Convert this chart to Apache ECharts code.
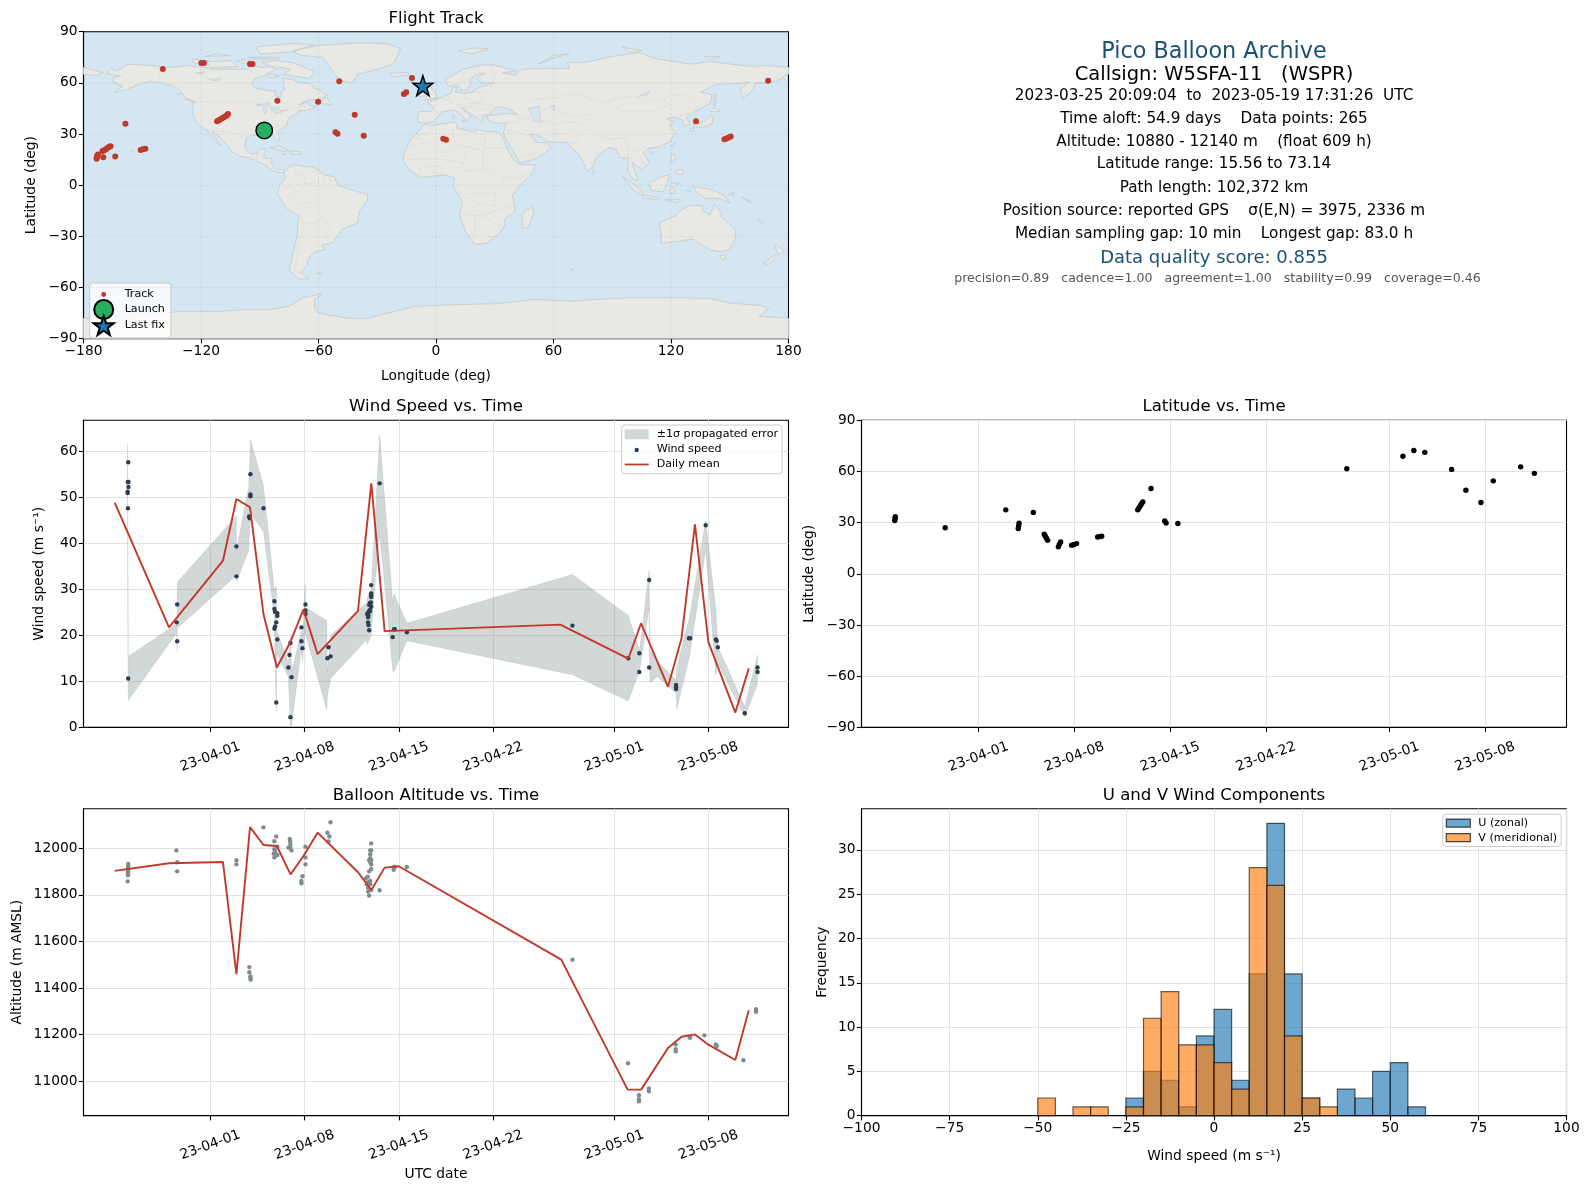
<!DOCTYPE html>
<html><head><meta charset="utf-8">
<script src="https://cdn.jsdelivr.net/npm/echarts@6/dist/echarts.min.js"></script>
<style>html,body{margin:0;padding:0;background:#fff}#c{width:1589px;height:1189px}</style>
</head><body><div id="c"></div>
<script>
// ---------- tick labels ----------
const lonTicks=[-180,-120,-60,0,60,120,180];
const latTicks=[-90,-60,-30,0,30,60,90];
const timeTickDays=[0,7,14,21,30,37];
const timeTickLabels=['23-04-01','23-04-08','23-04-15','23-04-22','23-05-01','23-05-08'];
const windTicks=[0,10,20,30,40,50,60];
const altTicks=[11000,11200,11400,11600,11800,12000];
const histXTicks=[-100,-75,-50,-25,0,25,50,75,100];
const histYTicks=[0,5,10,15,20,25,30];

// ---------- flight track (lon/lat) ----------
const trackLon=[-173.2,-173.3,-172.6,-173,-169.9,-163.8,-170.3,-169.4,-168.5,-167.7,-166.8,-166.2,-158.6,-150.8,-149.7,-148.4,-139.5,-119.8,-118.5,-95,-93.7,-111.8,-111,-110,-109.2,-108.3,-107.5,-106.8,-106.2,-81,-60.2,-49.4,-41.5,-51.3,-50.3,-36.9,-12.3,-16.4,-15.2,3.7,5.1,132.8,147.3,148.4,149.4,150.5,169.6];
const trackLat=[16.4,15.5,18,17.2,16.4,16.8,20,20.5,21.1,21.9,22.5,22.9,36,20.7,21.1,21.3,68.2,71.7,71.7,71.1,71.1,37.5,37.9,38.7,39.2,39.8,40.4,41,41.8,49.5,48.9,61,41.3,31.1,30.1,29,62.9,53.4,54.5,27.2,26.6,37.5,27,27.4,28,28.6,61.2];
const launchPoint=[-87.7,32.1];
const lastFixPoint=[-6.7,58.4];

// ---------- land outlines (lon,lat) ----------
const landPolygons=[
// North America
[[-168,65.5],[-166,68.5],[-163,67],[-157,71],[-150,70.5],[-141,69.7],[-135,69],[-128,70],[-122,69.5],[-115,68],[-108,68],[-102,68],[-96,68],[-94,71.5],[-90,69],[-85,69.5],[-81.5,68],[-87,64.5],[-93,62],[-94.5,59],[-92,57],[-85,55.3],[-82,55],[-82,52.5],[-79,51.5],[-79,55],[-77,56.5],[-78,59],[-78,62.5],[-73,62],[-70,60],[-65,60],[-62,57],[-58,55],[-56,52.5],[-60,50],[-66,50],[-70,47],[-65,49],[-65,47],[-61,46],[-66,44],[-70,43.5],[-71,41.5],[-74,40.5],[-76,37],[-76,35],[-81,31.5],[-80,27],[-80.5,25],[-82,27],[-83,29.5],[-85,29.7],[-88,30.3],[-90,29],[-94,29.5],[-97,27.5],[-97.5,22],[-95,18.5],[-91,18.5],[-90.5,21],[-87,21.5],[-88,16],[-84,15.5],[-83.5,11],[-81,9],[-78,9.5],[-77.5,7.5],[-80,7.5],[-83,8.3],[-86,11],[-91,14],[-95,16],[-100,17],[-105,20],[-106,23],[-110,27.5],[-113,31],[-114.7,31.5],[-112,27],[-110,23],[-112,25],[-115,29],[-117,32.5],[-120.5,34.5],[-122.5,37.5],[-124,41],[-124,47],[-123,49],[-128,51],[-130,55],[-134,58],[-140,60],[-146,61],[-152,59],[-158,56],[-164,54.5],[-160,58],[-165,60.5],[-165,63],[-161,64],[-168,65.5]],
// Greenland
[[-73,78],[-68,80],[-60,82],[-40,83.5],[-25,83],[-18,80],[-20,75],[-22,71],[-30,68],[-40,65],[-43,60],[-48,61],[-52,65],[-54,69],[-58,75],[-68,76],[-73,78]],
// Canadian Arctic
[[-80,73],[-72,71.5],[-62,66.5],[-65,62.5],[-72,64],[-78,65],[-74,68],[-85,70],[-89,72]],
[[-117,72.5],[-105,73],[-101,69.5],[-115,69]],
[[-90,77],[-75,78],[-62,82.5],[-75,83],[-92,81]],
[[-125,74],[-116,73],[-123,71]],
[[-96,75],[-80,75],[-80,74],[-92,74]],
[[-112,77],[-105,76],[-118,75.5]],
[[-96,73.5],[-93,72],[-99,71.5],[-102,73]],
[[-86,65.5],[-80,64],[-85,62.8]],
[[-59,48],[-53,47],[-56,51.5]],
[[-130,53.5],[-132,54],[-131.5,52]],
[[-128,50.5],[-123.5,48.5],[-125,50]],
// Caribbean
[[-85,22],[-80,23],[-75,20],[-78,20]],
[[-74,20],[-69,19.5],[-68.5,18.3],[-74,18]],
[[-78,18.5],[-76.5,18],[-78,18]],
// South America
[[-77.5,7.5],[-75,11],[-72,12],[-68,11],[-62,10.5],[-57,6],[-52,5],[-50,0],[-44,-2.5],[-35,-5.5],[-35,-9],[-39,-15],[-40,-22],[-48,-26],[-53,-34],[-58,-35],[-57,-38],[-62,-39],[-65,-43],[-66,-47],[-69,-51],[-65,-55],[-70,-55],[-75,-50],[-73,-40],[-71,-30],[-70,-18],[-76,-14],[-81,-5],[-80,0],[-77,4]],
[[-61,-51.5],[-58,-51.5],[-59,-52.3]],
// Africa
[[-6,35.8],[-2,35],[10,37.3],[11,33.5],[20,31],[20,32.8],[25,31.7],[32,31],[34,28],[37,20],[39.5,15],[43,12],[51,12],[49,7],[42,-1],[39,-6],[40.5,-15],[35,-20],[35,-24],[32.5,-28],[26,-34],[20,-34.8],[18,-32],[15,-27],[12,-17],[13.5,-10],[9,-1],[9.5,4],[5,6],[-4,5],[-8,4.5],[-13,8.5],[-17,14.5],[-16,20],[-13,27],[-10,30]],
[[49,-12],[50,-16],[47,-25],[44,-25],[44,-17]],
// Eurasia
[[-9,37],[-9.5,39],[-9,43],[-2,43.5],[-1,46],[-4.5,48.5],[2,51],[8,54],[8.5,57],[10.5,57.5],[10,54.5],[14,54],[19,54.5],[21,57],[24,58],[30,60],[23,60],[21,63],[25,65.5],[22,65.7],[17,62],[18,59.5],[16,56],[13,55.5],[11,59],[6,58],[5,62],[14,68],[25,71],[31,70],[41,67],[34,66],[40,64.5],[44,68],[54,68.5],[68,68.5],[67,72],[75,72],[80,73],[90,75.5],[104,77.7],[113,74],[130,71],[140,72.5],[160,69.7],[170,70],[180,69],[180,65],[178,64.5],[177,62.5],[170,60],[163,60],[162,56],[157,51],[155.5,56],[160,60.5],[155,59.5],[143,59.3],[135,54.5],[141,53],[140,48],[132,43],[128,40],[129.5,36],[126.5,34.5],[126,38],[122,40],[118,39],[122,37],[119,35],[122,31],[120,26],[114,22.5],[108,21.5],[106,19],[109,13],[105,9],[100,13.5],[103,3],[101,3],[98,8],[98,16],[94,16],[92,21],[88,22],[82,16.5],[80,11],[77.5,8],[73,18],[70,21],[67,25],[57,25.5],[56,27],[50,30],[48,29.5],[51,25],[56,25],[59,22],[52,16],[43,13],[39,21],[35,28],[34.5,31.5],[36,36.5],[30,36.3],[26.5,38.5],[26,40.5],[29,41],[35,42],[41.5,41.5],[37,45],[33,46],[30,45.5],[28,42],[24,40.5],[23,37],[20,40],[13,45.5],[18,40],[16,38],[12,42],[9,44.3],[3,43],[0,39],[-2,37],[-6,36.5]],
// Chukotka west of the date line
[[-180,69],[-175,67.5],[-170,66],[-173,64.3],[-180,65]],
// European islands
[[-5.5,50],[1,51.5],[0,53.5],[-2,56],[-2,57.5],[-5,58.5],[-6,56],[-3,54],[-5,52]],
[[-10,52],[-6,52.3],[-6,55],[-10,54]],
[[-24,65.5],[-14,66],[-14,64.5],[-22,63.5]],
[[11,79],[20,80.5],[27,80],[18,77]],
[[52,71],[58,74],[68,77],[60,76],[55,72]],
[[8,41],[9.5,41],[9.5,39],[8.5,39]],
[[13,38],[15.5,38],[15,36.8]],
[[95,81],[105,79],[100,78]],
[[137,75.5],[145,75.5],[140,73.8]],
// East Asia islands
[[131,34],[136,34],[141,36],[141.5,40.5],[140,40.5],[136,36.5],[132,35.5]],
[[140,43],[145,43.5],[142,45.5]],
[[130,32],[131.5,31.5],[131.5,33.5],[130,33.5]],
[[142,46],[143,50],[143,54],[142,53]],
[[120,23],[121,22],[122,25]],
[[109,19.5],[111,19.5],[110,18.3]],
[[80,9.5],[81.8,7.5],[80.5,6]],
[[120,18],[122,18],[122,14],[120,14]],
[[122,7],[126,6],[126,9.5],[123,8.5]],
[[109,1],[115,5],[119,6],[118,1],[116,-4],[110,-3]],
[[95,5.5],[104,-2],[106,-6],[102,-4],[98,1]],
[[105,-6],[114,-7],[114,-8.5],[106,-7.5]],
[[119.5,-5],[120,1],[125,1.5],[121,-1],[122,-5]],
[[131,-1],[141,-2.5],[147,-6],[150,-10.5],[144,-7.5],[138,-8],[133,-4]],
[[128,-3],[130,-3],[130,-3.7]],
[[117,-8.5],[125,-8.5],[123,-10.3]],
[[149,-5.5],[152,-4.3],[152,-6]],
[[156,-7],[160,-9],[161,-10.5]],
[[164,-20],[167,-22.5],[166,-22]],
// Australasia
[[114,-22],[122,-18],[126,-14],[130,-12],[136,-12],[136,-15],[140,-17.5],[142,-11],[145,-15],[146,-19],[153,-26],[153,-31],[150,-37.5],[146,-39],[140,-38],[136,-35],[131,-31.5],[124,-33],[115,-34],[115,-30]],
[[145,-41],[148,-41],[147.5,-43.5],[146,-43.5]],
[[173,-35],[178,-38],[175,-41],[174,-39]],
[[173,-41],[174,-42],[170,-46.5],[167,-46]],
[[-156,20],[-155,19.5],[-155.5,19]],
[[69,-49],[70.5,-49.5],[69.5,-49.6]],
// Antarctica
[[-180,-90],[-180,-78],[-160,-78],[-150,-76],[-130,-74],[-110,-74],[-100,-73],[-85,-73],[-75,-71],[-68,-66],[-58,-63.5],[-62,-67],[-62,-72],[-60,-75],[-45,-78],[-35,-78],[-25,-75],[-10,-71],[10,-70],[30,-69.5],[50,-67],[70,-68],[80,-67],[100,-66],[120,-66],[140,-66.5],[150,-69],[165,-70.5],[170,-72],[165,-77],[180,-78],[180,-90]]
];
const lakePolygons=[
[[47,45],[53,46.5],[53,40],[54,37],[50,37.5],[49,41]],
[[-92,47],[-85,48.5],[-85,46.5],[-88,46.5]],
[[-88,46],[-86,44],[-87.5,41.7],[-88,44]],
[[-84,46],[-80,45],[-82,43.5],[-84,44]],
[[-83,42],[-79,43],[-79,42.5]],
[[-80,43.5],[-76,44],[-78,43.3]],
[[-123,66],[-118,66.5],[-120,65]],
[[-116,62],[-110,62.7],[-112,61]],
[[58,46.5],[61,46.5],[60,44]],
[[103,52],[109,55],[108,53]]
];
const borderLines=[
[[-123,49],[-95,49],[-89,48],[-83,46],[-82.5,42],[-79,43],[-75,45],[-71,45],[-67,47],[-67,45]],
[[-141,69.7],[-141,60],[-135,59],[-130,55]],
[[-117,32.5],[-108,31.5],[-106,31.7],[-101,29.5],[-97.5,26]],
[[-92,14.5],[-91,17.5],[-89,17.8],[-88,18.5]],
[[-72,12],[-72,7],[-67,6],[-67,1],[-70,-4],[-74,-7],[-70,-11],[-69,-16],[-69.5,-18],[-67,-23],[-70,-33],[-72,-50],[-69,-52]],
[[-60,5],[-60,1],[-67,1]],
[[-70,-11],[-65,-10],[-60,-14],[-58,-20],[-54,-25],[-57,-30],[-53,-34]],
[[-67,-23],[-62,-22],[-58,-20]],
[[-80,-3.5],[-75,-1],[-70,-4]],
[[-57,6],[-57,2]],[[-54,5.5],[-54,2]],[[-52,4],[-52,2]],
[[-13,27.7],[-8.7,27.3],[-8.7,29],[-2,32],[-2,35]],
[[-17,21],[-13,21],[-13,23],[-5,25],[4,19],[12,23.5],[25,20],[25,31.7]],
[[10,33],[8,32],[9,30],[10,24],[12,23.5]],
[[25,22],[36,22]],
[[24,20],[24,9],[34,5],[42,4],[48,8]],
[[-16.5,16],[-12,15],[-5,15.5],[4,15],[14,13],[9,4.5]],
[[24,9],[15,8],[14,13],[16,23]],
[[12,-5],[30,-5],[30,-12],[22,-11],[12,-6]],
[[12,-17],[24,-18],[30,-15],[40,-11]],
[[30,-5],[34,-1],[34,5]],
[[20,-18],[20,-29],[17,-29]],
[[24,-18],[33,-25]],
[[-8,5],[-8,10],[-3,11],[3,11],[3,6]],
[[-2,43.5],[3,42.5]],
[[2,51],[8,49],[7,44]],
[[8,54.5],[6,51],[8,49]],
[[14,54],[15,51],[18,49.5],[24,48],[30,46]],
[[10,47],[17,48],[22,48]],
[[24,54],[24,50],[22,48]],
[[19,54.5],[24,54],[28,56],[28,59]],
[[13,46],[19,46],[22,44],[28,44]],
[[20,40],[23,41.5],[26,41.5]],
[[12,59],[14,66],[20,69],[28,70],[30,62],[28,60]],
[[36,36.5],[42,37],[44.5,39.5],[48,38.5]],
[[44,37],[46,33],[48,30]],
[[36,32],[39,32],[47,29]],
[[43,17],[52,19],[56,24]],
[[61,25],[61,36],[54,38]],
[[61,30],[66,29.5],[70,33],[74,37],[66,37],[61,36]],
[[53,41.5],[56,45],[62,43.5],[68,41],[74,40]],
[[47,50],[60,51],[72,54],[80,50],[87,49]],
[[80,42],[74,40]],
[[80,42],[87,49],[98,52],[107,50],[116,50],[120,53],[126,53],[135,48],[131,43]],
[[87,49],[96,43],[110,43],[120,47],[116,50]],
[[74,37],[78,33],[80,30],[88,27],[97,28],[98,24],[101,21],[106,22],[108,21.5]],
[[67,25],[71,25],[74,31],[78,33]],
[[88,27],[92,26],[92,21]],
[[98,24],[98,16]],
[[101,21],[105,15],[107,11]],
[[124,40],[130,42.5]],
[[126,38],[128.5,38.5]],
[[141,-2.5],[141,-9]]
];

// ---------- wind speed, days after 2023-04-01 ----------
const windDays=[-6.1,-6.13,-6.08,-6.08,-6.14,-6.14,-6.12,-6.1,-2.46,-2.5,-2.46,1.94,1.94,2.98,2.98,2.98,2.88,2.93,3.95,4.76,4.76,4.81,4.98,4.98,4.9,4.81,4.76,4.98,4.9,5.88,5.8,5.95,6.03,5.95,6.77,6.77,6.85,7.07,7.07,7.07,8.78,8.7,8.93,11.95,11.95,11.95,11.95,11.93,11.86,11.8,11.95,11.86,11.8,11.72,11.65,11.86,11.75,11.72,11.72,11.75,11.8,12.58,13.55,13.65,13.7,14.6,26.9,31.05,31.87,31.87,32.6,32.6,34.6,34.6,34.6,35.55,35.65,36.8,37.55,37.62,37.7,39.7,40.65,40.65];
const windValues=[57.6,53.3,53.3,52.2,51.2,50.9,47.6,10.6,26.7,22.8,18.7,39.3,32.8,55,50.6,50.2,45.8,45.4,47.6,27.4,25.7,25.1,24.8,24.2,22.8,21.9,21.4,19.1,5.4,15.7,13,18.3,10.9,2.2,21.7,18.7,17.2,26.7,25.4,24.6,17.4,15,15.4,30.9,29.1,28.7,28.3,27.1,27,26.6,26.2,25.5,25.3,24.9,24.6,25.2,24.3,23.9,22.8,22.2,21.1,53,19.6,21.3,21.3,20.65,22.1,15,16.1,12,32,13,9.2,8.7,8.3,19.35,19.35,43.9,19.1,18.8,17.4,3.05,13,12];
const meanDays=[-7.1,-3.07,0.94,1.94,2.95,3.95,4.94,5.96,6.92,7.97,10.97,11.96,12.95,14,26,31.05,32,34,35,36,37,39,40];
const windMean=[48.8,21.7,36.2,49.6,47.8,24.6,13,18.6,25.6,15.9,25.3,53,20.9,21,22.3,14.9,22.6,8.8,19.3,44.1,18.5,3.2,12.8];
const bandDays=[-6.15,-6.1,-2.5,-2.47,-2.46,1.93,1.95,2.85,2.98,3.95,4.75,4.9,4.95,5.8,5.95,6.05,6.75,6.85,7.05,7.1,8.65,8.7,8.95,11.6,11.65,11.95,12.2,12.58,13.55,13.65,14.6,26.9,31.05,31.87,31.9,32.6,32.65,33.2,34.6,34.65,35.6,36.8,37.55,37.7,39.7,40.65];
const bandLow=[46.5,5.8,20.5,16.5,21.5,33,31.6,38.5,46.5,42.5,24,3.3,16,11,0,0.5,17,14.5,21,20,3.8,7,10.6,19,17.9,20,30,42.2,12.5,12,18.8,11.4,5.7,12.1,12.5,26,9.6,11,7.4,3.9,15.4,38.5,11.4,13.9,2.3,9.4];
const bandHigh=[61.7,15.4,22.5,22,31.5,45.9,38.5,52.3,62.6,52.5,30,30.6,21,14,20,12,21,20,31,26,23.2,12,20,27,28,30,43,63.7,27,29,22.6,33.2,24.3,16.8,17,34.2,17,14.3,10.3,12.8,24,45,25.6,17.5,4.5,15.7];

// ---------- latitude ----------
const latDays=[-6.12,-6.1,-6.08,-2.44,1.99,2.9,2.93,2.96,4,4.8,4.88,4.96,5.05,5.83,5.9,6,6.8,6.95,7.16,8.7,8.85,9,11.63,11.7,11.78,11.85,11.92,12,12.6,13.6,13.7,14.56,26.9,31,31.8,32.6,34.56,35.6,36.7,37.6,39.6,40.6];
const latValues=[31.2,32.4,33.5,27,37.5,26.6,28,29.6,36,23.2,22,20.8,19.6,15.8,17.2,18.7,16.8,17,17.7,21.6,21.8,22,37.5,38.5,39.4,40.3,41.3,42.2,50,31,29.8,29.5,61.6,68.9,72.3,71.2,61.2,49,41.8,54.5,62.7,58.9];

// ---------- altitude ----------
const altDays=[-6.1,-6.1,-6.12,-6.1,-6.12,-6.1,-6.12,-6.14,-2.52,-2.46,-2.46,1.94,1.94,2.9,2.9,2.98,2.98,3,3.95,4.9,4.76,4.98,4.76,4.81,4.71,4.98,4.76,5.9,5.93,5.95,5.8,5.95,6.03,6.85,6.77,6.77,7.07,7.07,7.07,8.7,8.85,8.78,8.93,11.95,11.88,11.95,11.88,11.88,11.8,11.95,11.88,11.95,11.95,11.8,11.7,11.55,11.88,11.72,11.62,11.88,11.72,11.72,11.8,11.95,12.58,13.65,13.62,13.7,14.6,26.9,31.03,31.84,31.84,31.84,32.58,32.58,34.57,34.57,34.57,35.6,35.65,36.7,37.55,37.62,39.6,40.54,40.54];
const altValues=[11933,11924,11914,11906,11897,11890,11884,11858,11991,11940,11901,11949,11931,11490,11468,11450,11444,11437,12090,12051,12030,12007,11996,11986,11977,11971,11961,12040,12029,12017,12003,12003,11991,11880,11860,11850,12007,11961,11931,12067,12051,12029,12112,12021,11991,11991,11974,11957,11949,11949,11940,11931,11911,11901,11878,11871,11860,11854,11846,11846,11831,11814,11797,11821,11820,11920,11908,11920,11920,11522,11077,10940,10923,10914,10969,10957,11158,11137,11128,11188,11188,11197,11158,11151,11090,11309,11298];
const altMeanDays=[-7.1,-3.07,0.94,1.94,2.95,3.95,4.94,5.96,6.92,7.97,10.97,11.96,12.95,14,26.07,31,32,34,35,36,37,39,40];
const altMean=[11903,11936,11941,11460,12091,12014,12010,11888,11967,12067,11897,11821,11917,11923,11522,10964,10964,11143,11191,11201,11157,11091,11305];

// ---------- histogram (bin start, count; bins are 5 m/s wide) ----------
const histBinWidth=[5];
const uBins=[-25,-20,-15,-10,-5,0,5,10,15,20,25,35,40,45,50,55];
const uCounts=[2,5,4,1,9,12,4,16,33,16,2,3,2,5,6,1];
const vBins=[-50,-40,-35,-25,-20,-15,-10,-5,0,5,10,15,20,25,30];
const vCounts=[2,1,1,1,11,14,8,8,6,3,28,26,9,2,1];

// ---------- info panel ----------
const infoLines=['Pico Balloon Archive','Callsign: W5SFA-11   (WSPR)','2023-03-25 20:09:04  to  2023-05-19 17:31:26  UTC','Time aloft: 54.9 days    Data points: 265','Altitude: 10880 - 12140 m    (float 609 h)','Latitude range: 15.56 to 73.14','Path length: 102,372 km','Position source: reported GPS    σ(E,N) = 3975, 2336 m','Median sampling gap: 10 min    Longest gap: 83.0 h','Data quality score: 0.855','precision=0.89   cadence=1.00   agreement=1.00   stability=0.99   coverage=0.46'];
const infoY=[52.5,75,96.5,119,142,164.5,188,211.5,234.5,258,279];
const infoDx=[0,0,0,0,0,0,0,0,0,0,3.5];
const infoSize=[22.3,19.5,15.25,15.25,15.25,15.25,15.25,15.25,15.25,18,12.55];
const infoColor=['#1a5276','#000','#000','#000','#000','#000','#000','#000','#000','#1a5276','#555'];

// ---------- helpers ----------
const FONT='"DejaVu Sans"';
const G={l1:83.5,l2:861.5,w:705,h:307,t1:31.7,t2:420.3,t3:808.7};
const TICK_FS=13.8, NAME_FS=13.8;
const minus=v=>String(v).replace('-','\u2212');
const axisBase=(grid,ticks,fmt)=>({
  gridIndex:grid,type:'value',
  axisLine:{show:true,onZero:false,lineStyle:{color:'#000',width:1.1}},
  axisTick:{show:true,length:4.7,customValues:ticks,lineStyle:{color:'#000',width:1.1}},
  axisLabel:{show:true,customValues:ticks,formatter:fmt,color:'#000',fontFamily:FONT,fontSize:TICK_FS,margin:6,hideOverlap:false},
  splitLine:{show:true,lineStyle:{color:'#e2e2e2',width:1}},
  nameTextStyle:{color:'#000',fontFamily:FONT,fontSize:NAME_FS},
  nameLocation:'middle'
});
const timeX=(grid,name,min)=>{
  const a=axisBase(grid,timeTickDays,v=>timeTickLabels[timeTickDays.indexOf(v)]);
  a.min=min;a.max=42.95;
  a.axisLabel.rotate=20;a.axisLabel.align='center';a.axisLabel.verticalAlign='middle';a.axisLabel.margin=29.5;
  if(name){a.name=name;a.nameGap=52;}
  return a;
};
const yAx=(grid,ticks,min,max,name,gap)=>Object.assign(axisBase(grid,ticks,minus),{min,max,name,nameGap:gap,nameRotate:90});
const zip=(a,b)=>a.map((v,i)=>[v,b[i]]);
const titles=[['Flight Track',G.l1,G.t1],['Wind Speed vs. Time',G.l1,G.t2],['Latitude vs. Time',G.l2,G.t2],['Balloon Altitude vs. Time',G.l1,G.t3],['U and V Wind Components',G.l2,G.t3]];
const STAR='path://M50 0L61.8 35.1L97.6 34.5L69 56.5L79.4 90.5L50 70L20.6 90.5L31 56.5L2.4 34.5L38.2 35.1Z';
const SMALLDOT='path://M0 0L0 0M100 100L100 100M50 37A13 13 0 1 1 50 63A13 13 0 1 1 50 37Z';
const WINDDOT='path://M0 0L0 0M240 100L240 100M120 78A22 22 0 1 1 120 34A22 22 0 1 1 120 78Z';
const LINEBAR='path://M0 0L0 0M240 100L240 100M0 41H240V59H0Z';

const polySeries=(name,polys,fill,stroke,w,z)=>({
  type:'custom',name,xAxisIndex:0,yAxisIndex:0,coordinateSystem:'cartesian2d',clip:true,z,silent:true,
  data:polys.map((p,i)=>[p[0][0],p[0][1],i]),
  renderItem:(params,api)=>({type:'polygon',shape:{points:polys[params.dataIndex].map(c=>api.coord(c))},style:{fill,stroke,lineWidth:w}})
});
const lineSetSeries=(name,lines,stroke,w,dash,z)=>({
  type:'custom',name,xAxisIndex:0,yAxisIndex:0,coordinateSystem:'cartesian2d',clip:true,z,silent:true,
  data:lines.map((p,i)=>[p[0][0],p[0][1],i]),
  renderItem:(params,api)=>({type:'polyline',shape:{points:lines[params.dataIndex].map(c=>api.coord(c))},style:{fill:'none',stroke,lineWidth:w,lineDash:dash||null}})
});
const graticule=[...lonTicks.slice(1,-1).map(x=>[[x,-90],[x,90]]),...latTicks.slice(1,-1).map(y=>[[-180,y],[180,y]])];
const histSeries=(name,bins,counts,color,x,y,z)=>({
  type:'custom',name,xAxisIndex:x,yAxisIndex:y,coordinateSystem:'cartesian2d',z,
  itemStyle:{color},
  data:zip(bins,counts),encode:{x:0,y:1},
  renderItem:(params,api)=>{
    const a=api.coord([api.value(0),0]),b=api.coord([api.value(0)+histBinWidth[0],api.value(1)]);
    return {type:'rect',shape:{x:a[0],y:b[1],width:b[0]-a[0],height:a[1]-b[1]},style:{fill:color,stroke:'rgba(0,0,0,0.6)',lineWidth:1.2}};
  }
});
const legendText={color:'#000',fontFamily:FONT,fontSize:11.1};
const legendBox={show:true,orient:'vertical',backgroundColor:'rgba(255,255,255,0.8)',borderColor:'#ccc',borderWidth:1,borderRadius:3};

const option={
  animation:false,backgroundColor:'#fff',
  title:titles.map(([text,l,t])=>({text,left:l+G.w/2,top:t-22,textAlign:'center',padding:0,textStyle:{fontFamily:FONT,fontSize:16.6,fontWeight:'normal',color:'#000'}})),
  grid:[
    {left:G.l1,top:G.t1,width:G.w,height:G.h,show:true,backgroundColor:'#d4e6f1',borderColor:'#000',borderWidth:1.1},
    {left:G.l1,top:G.t2,width:G.w,height:G.h,show:true,borderColor:'#000',borderWidth:1.1},
    {left:G.l2,top:G.t2,width:G.w,height:G.h,show:true,borderColor:'#000',borderWidth:1.1},
    {left:G.l1,top:G.t3,width:G.w,height:G.h,show:true,borderColor:'#000',borderWidth:1.1},
    {left:G.l2,top:G.t3,width:G.w,height:G.h,show:true,borderColor:'#000',borderWidth:1.1}
  ],
  xAxis:[
    Object.assign(axisBase(0,lonTicks,minus),{min:-180,max:180,name:'Longitude (deg)',nameGap:31,splitLine:{show:false}}),
    timeX(1,null,-9.42),timeX(2,null,-8.55),timeX(3,'UTC date',-9.42),
    Object.assign(axisBase(4,histXTicks,minus),{min:-100,max:100,name:'Wind speed (m s\u207B\u00B9)',nameGap:34})
  ],
  yAxis:[
    Object.assign(yAx(0,latTicks,-90,90,'Latitude (deg)',45),{splitLine:{show:false}}),
    yAx(1,windTicks,0,66.7,'Wind speed (m s\u207B\u00B9)',37),
    yAx(2,latTicks,-90,90,'Latitude (deg)',45),
    yAx(3,altTicks,10852,12170,'Altitude (m AMSL)',59),
    yAx(4,histYTicks,0,34.65,'Frequency',32)
  ],
  legend:[
    Object.assign({},legendBox,{left:89.7,top:283,padding:[2,6,2,3],itemWidth:26,itemHeight:19,itemGap:-5,textStyle:Object.assign({},legendText,{padding:[0,0,0,3]}),
      data:[{name:'Track',icon:SMALLDOT},{name:'Launch',icon:'circle'},{name:'Last fix',icon:STAR}]}),
    Object.assign({},legendBox,{left:621.7,top:425,padding:[3.8,4,3.8,3],itemWidth:24,itemHeight:10,itemGap:4.1,textStyle:Object.assign({},legendText,{padding:[0,0,0,3]}),
      data:[{name:'\u00B11\u03C3 propagated error',icon:'rect',itemStyle:{color:'rgba(127,140,141,0.35)'}},{name:'Wind speed',icon:WINDDOT},{name:'Daily mean',icon:LINEBAR,itemStyle:{color:'#c0392b'}}]}),
    Object.assign({},legendBox,{left:1442.7,top:814.3,padding:[3.3,4,3.3,3],itemWidth:24,itemHeight:8,itemGap:3.6,textStyle:Object.assign({},legendText,{padding:[0,0,0,3]}),
      data:[{name:'U (zonal)',icon:'rect',itemStyle:{color:'rgba(31,119,180,0.65)',borderColor:'rgba(0,0,0,0.7)',borderWidth:1.2}},{name:'V (meridional)',icon:'rect',itemStyle:{color:'rgba(255,127,14,0.65)',borderColor:'rgba(0,0,0,0.7)',borderWidth:1.2}}]})
  ],
  graphic:infoLines.map((text,i)=>({type:'text',x:G.l2+G.w/2+infoDx[i],y:infoY[i],silent:true,style:{text,textAlign:'center',textVerticalAlign:'middle',fontFamily:FONT,fontSize:infoSize[i],fill:infoColor[i]}})),
  series:[
    polySeries('land',landPolygons,'#e8e8e4','#c4cacd',0.8,1),
    polySeries('lakes',lakePolygons,'#d4e6f1','#c4cacd',0.6,2),
    lineSetSeries('borders',borderLines,'#dbdcd9',0.7,null,3),
    lineSetSeries('graticule',graticule,'rgba(120,120,120,0.22)',0.7,[2,2],4),
    {type:'scatter',name:'Track',xAxisIndex:0,yAxisIndex:0,data:zip(trackLon,trackLat),symbolSize:6,z:5,itemStyle:{color:'#c0392b',opacity:1}},
    {type:'scatter',name:'Launch',xAxisIndex:0,yAxisIndex:0,data:[launchPoint],symbol:'circle',symbolSize:16.5,z:6,itemStyle:{color:'#27ae60',borderColor:'#000',borderWidth:1.4,opacity:1}},
    {type:'scatter',name:'Last fix',xAxisIndex:0,yAxisIndex:0,data:[lastFixPoint],symbol:STAR,symbolSize:20,z:7,itemStyle:{color:'#1f77b4',borderColor:'#000',borderWidth:1.4,opacity:1}},

    {type:'custom',name:'\u00B11\u03C3 propagated error',xAxisIndex:1,yAxisIndex:1,coordinateSystem:'cartesian2d',clip:true,z:2,silent:true,
      itemStyle:{color:'rgba(127,140,141,0.35)'},
      data:[[bandDays[0],bandLow[0]]],encode:{x:0,y:1},
      renderItem:(params,api)=>({type:'polygon',shape:{points:[...bandDays.map((d,i)=>api.coord([d,bandHigh[i]])),...bandDays.map((d,i)=>api.coord([d,bandLow[i]])).reverse()]},style:{fill:'rgba(127,140,141,0.35)',stroke:'rgba(127,140,141,0.2)',lineWidth:0.8}})},
    {type:'scatter',name:'Wind speed',xAxisIndex:1,yAxisIndex:1,data:zip(windDays,windValues),symbolSize:4.4,z:3,itemStyle:{color:'#2c3e50',opacity:1}},
    {type:'line',name:'Daily mean',xAxisIndex:1,yAxisIndex:1,data:zip(meanDays,windMean),showSymbol:false,symbol:'none',z:4,lineStyle:{color:'#c0392b',width:1.9},itemStyle:{color:'#c0392b'}},

    {type:'scatter',name:'latitude',xAxisIndex:2,yAxisIndex:2,data:zip(latDays,latValues),symbolSize:5.4,itemStyle:{color:'#000',opacity:1}},

    {type:'scatter',name:'altitude',xAxisIndex:3,yAxisIndex:3,data:zip(altDays,altValues),symbolSize:4.4,z:3,itemStyle:{color:'#7f8c8d',opacity:1}},
    {type:'line',name:'altitude mean',xAxisIndex:3,yAxisIndex:3,data:zip(altMeanDays,altMean),showSymbol:false,symbol:'none',z:4,lineStyle:{color:'#c0392b',width:1.9}},

    histSeries('U (zonal)',uBins,uCounts,'rgba(31,119,180,0.65)',4,4,3),
    histSeries('V (meridional)',vBins,vCounts,'rgba(255,127,14,0.65)',4,4,4)
  ]
};
const chart=echarts.init(document.getElementById('c'),null,{renderer:'canvas'});
chart.setOption(option);
</script></body></html>
